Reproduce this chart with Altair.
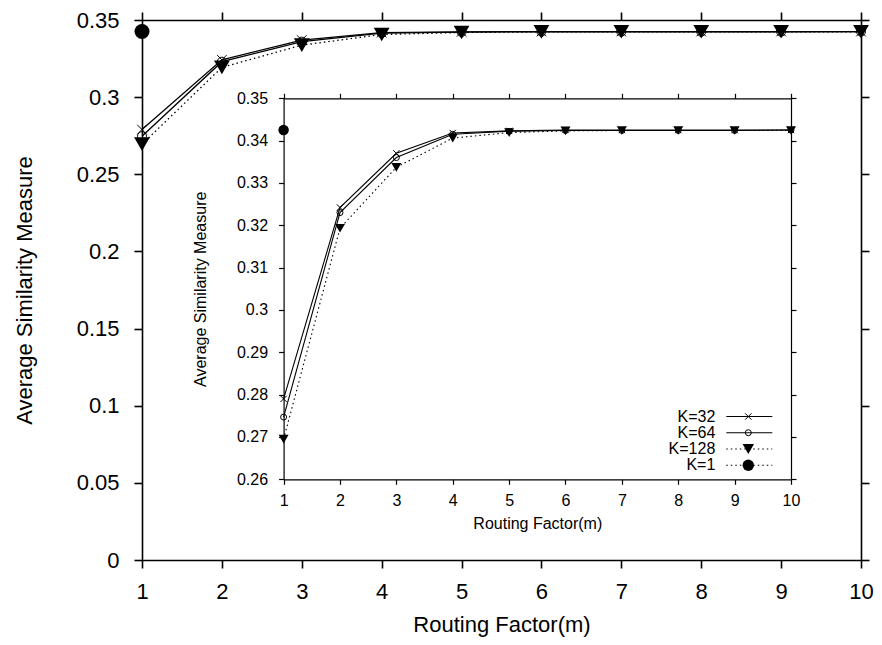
import altair as alt
import pandas as pd

# ---------------- data ----------------
m_values = [1, 2, 3, 4, 5, 6, 7, 8, 9, 10]
k32 = [0.2790, 0.3242, 0.3370, 0.3418, 0.3423, 0.3425, 0.3425, 0.3425, 0.3425, 0.3425]
k64 = [0.2747, 0.3230, 0.3360, 0.3415, 0.3422, 0.3424, 0.3424, 0.3424, 0.3424, 0.3425]
k128 = [0.2695, 0.3193, 0.3337, 0.3406, 0.3419, 0.3423, 0.3424, 0.3424, 0.3424, 0.3424]
k1_m = [1]
k1_v = [0.3425]

series_names = ["K=32", "K=64", "K=128", "K=1"]
x_ticks = [1, 2, 3, 4, 5, 6, 7, 8, 9, 10]
main_y_ticks = [0, 0.05, 0.1, 0.15, 0.2, 0.25, 0.3, 0.35]
inset_y_ticks = [0.26, 0.27, 0.28, 0.29, 0.3, 0.31, 0.32, 0.33, 0.34, 0.35]

X_TITLE = "Routing Factor(m)"
Y_TITLE = "Average Similarity Measure"

# ---------------- layout ----------------
W, H = 719, 540
PAD_L, PAD_T = 142, 20
INSET_X = [141.6, 649.0]
INSET_Y = [459.3, 78.3]
FONT = "Liberation Sans"
CROSS = "M-1,-1L1,1M-1,1L1,-1"

df32 = pd.DataFrame({"m": m_values, "v": k32})
df64 = pd.DataFrame({"m": m_values, "v": k64})
df128 = pd.DataFrame({"m": m_values, "v": k128})
df1 = pd.DataFrame({"m": k1_m, "v": k1_v})


def panel(xs, ys, x_ax, y_ax, x_mirror, y_mirror, lw, sizes):
    def enc(base, xa=None, ya=None):
        return base.encode(
            x=alt.X("m:Q", scale=xs, axis=xa),
            y=alt.Y("v:Q", scale=ys, axis=ya),
        )

    l32 = enc(alt.Chart(df32).mark_line(color="black", strokeWidth=lw), x_ax, y_ax)
    l64 = enc(alt.Chart(df64).mark_line(color="black", strokeWidth=lw))
    l128 = enc(alt.Chart(df128).mark_line(color="black", strokeWidth=lw, strokeDash=[1.5, 3]))
    p32 = enc(alt.Chart(df32).mark_point(shape=CROSS, filled=False, color="black",
                                          strokeWidth=1, size=sizes[0], opacity=1))
    p64 = enc(alt.Chart(df64).mark_point(shape="circle", filled=False, color="black",
                                          strokeWidth=1, size=sizes[1], opacity=1))
    p128 = enc(alt.Chart(df128).mark_point(shape="triangle-down", filled=True, color="black",
                                            size=sizes[2], opacity=1))
    p1 = enc(alt.Chart(df1).mark_point(shape="circle", filled=True, color="black",
                                        size=sizes[3], opacity=1))
    mirror = enc(alt.Chart(df32).mark_point(opacity=0), x_mirror, y_mirror)
    return alt.layer(l32, l64, l128, p32, p64, p128, p1, mirror).resolve_axis(
        x="independent", y="independent")


def axis(orient, values, fmt, fs, tick, pad, width, labels=True, title=None, offset=0,
         tx=None, ty=None, tfs=None):
    kw = dict(orient=orient, values=values, grid=False, domain=True, ticks=True,
              tickSize=tick, tickColor="black", domainColor="black",
              domainWidth=width, tickWidth=width, labels=labels, offset=offset,
              labelFont=FONT, labelFontSize=fs, labelColor="black", labelPadding=pad,
              labelFlush=False, labelOverlap=False)
    if fmt:
        kw["format"] = fmt
    if title:
        kw.update(title=title, titleFont=FONT, titleFontSize=tfs, titleFontWeight="normal",
                  titleColor="black", titleX=tx, titleY=ty, titleAlign="center",
                  titleBaseline="middle")
        if orient in ("left", "right"):
            kw["titleAngle"] = 270
    else:
        kw["title"] = None
    return alt.Axis(**kw)


# main panel
mxs = alt.Scale(domain=[1, 10], nice=False, zero=False)
mys = alt.Scale(domain=[0, 0.35], nice=False, zero=False)
main = panel(
    mxs, mys,
    axis("bottom", x_ticks, "d", 22, 8, 13, 1.6, title=X_TITLE, tx=W / 2, ty=64, tfs=22),
    axis("left", main_y_ticks, "~g", 22, 8, 15, 1.6, title=Y_TITLE, tx=-117.7, ty=H / 2, tfs=22),
    axis("top", x_ticks, None, 22, 8, 5, 1.6, labels=False),
    axis("right", main_y_ticks, None, 22, 8, 5, 1.6, labels=False),
    1.3, [90, 80, 250, 225],
)

# inset panel
ixs = alt.Scale(domain=[1, 10], nice=False, zero=False, range=INSET_X)
iys = alt.Scale(domain=[0.26, 0.35], nice=False, zero=False, range=INSET_Y)
ix_mid = (INSET_X[0] + INSET_X[1]) / 2
iy_mid = (INSET_Y[0] + INSET_Y[1]) / 2
inset = panel(
    ixs, iys,
    axis("bottom", x_ticks, "d", 16, 5, 8, 1.2, offset=-(H - INSET_Y[0]),
         title=X_TITLE, tx=ix_mid, ty=44, tfs=16),
    axis("left", inset_y_ticks, "~g", 16, 5, 11, 1.2, offset=-INSET_X[0],
         title=Y_TITLE, tx=-83.3, ty=iy_mid, tfs=16),
    axis("top", x_ticks, None, 16, 5, 5, 1.2, labels=False, offset=-INSET_Y[1]),
    axis("right", inset_y_ticks, None, 16, 5, 5, 1.2, labels=False, offset=-(W - INSET_X[1])),
    1.1, [40, 36, 100, 110],
)

# legend (inside inset, lower right)
leg_rows = [396.5, 412.7, 429.0, 445.2]
leg_text_x, leg_l0, leg_l1, leg_mk = 573.3, 584.3, 630.3, 606.3
leg_dash = [None, None, [1.5, 3], [1.5, 3]]
leg_shapes = [CROSS, "circle", "triangle-down", "circle"]
leg_filled = [False, False, True, True]
leg_sizes = [40, 36, 130, 130]
legend_layers = []
for name, yy, dash, shp, fil, sz in zip(series_names, leg_rows, leg_dash, leg_shapes,
                                         leg_filled, leg_sizes):
    legend_layers.append(
        alt.Chart(df1).mark_text(align="right", baseline="middle", font=FONT, fontSize=16,
                                 color="black")
        .encode(x=alt.value(leg_text_x), y=alt.value(yy), text=alt.value(name))
    )
    rule_kw = dict(color="black", strokeWidth=1.1)
    if dash:
        rule_kw["strokeDash"] = dash
    legend_layers.append(
        alt.Chart(df1).mark_rule(**rule_kw)
        .encode(x=alt.value(leg_l0), x2=alt.value(leg_l1), y=alt.value(yy))
    )
    legend_layers.append(
        alt.Chart(df1).mark_point(shape=shp, filled=fil, color="black", size=sz,
                                  strokeWidth=1, opacity=1)
        .encode(x=alt.value(leg_mk), y=alt.value(yy))
    )

chart = (
    alt.layer(main, inset, *legend_layers)
    .resolve_scale(x="independent", y="independent")
    .resolve_axis(x="independent", y="independent")
    .properties(
        width=W, height=H,
        autosize=alt.AutoSizeParams(type="none"),
        padding={"left": PAD_L, "top": PAD_T, "right": 882 - PAD_L - W, "bottom": 645 - PAD_T - H},
        background="white",
    )
    .configure_view(stroke=None)
)

chart.save("out.html", embed_options={"renderer": "svg", "actions": False})
